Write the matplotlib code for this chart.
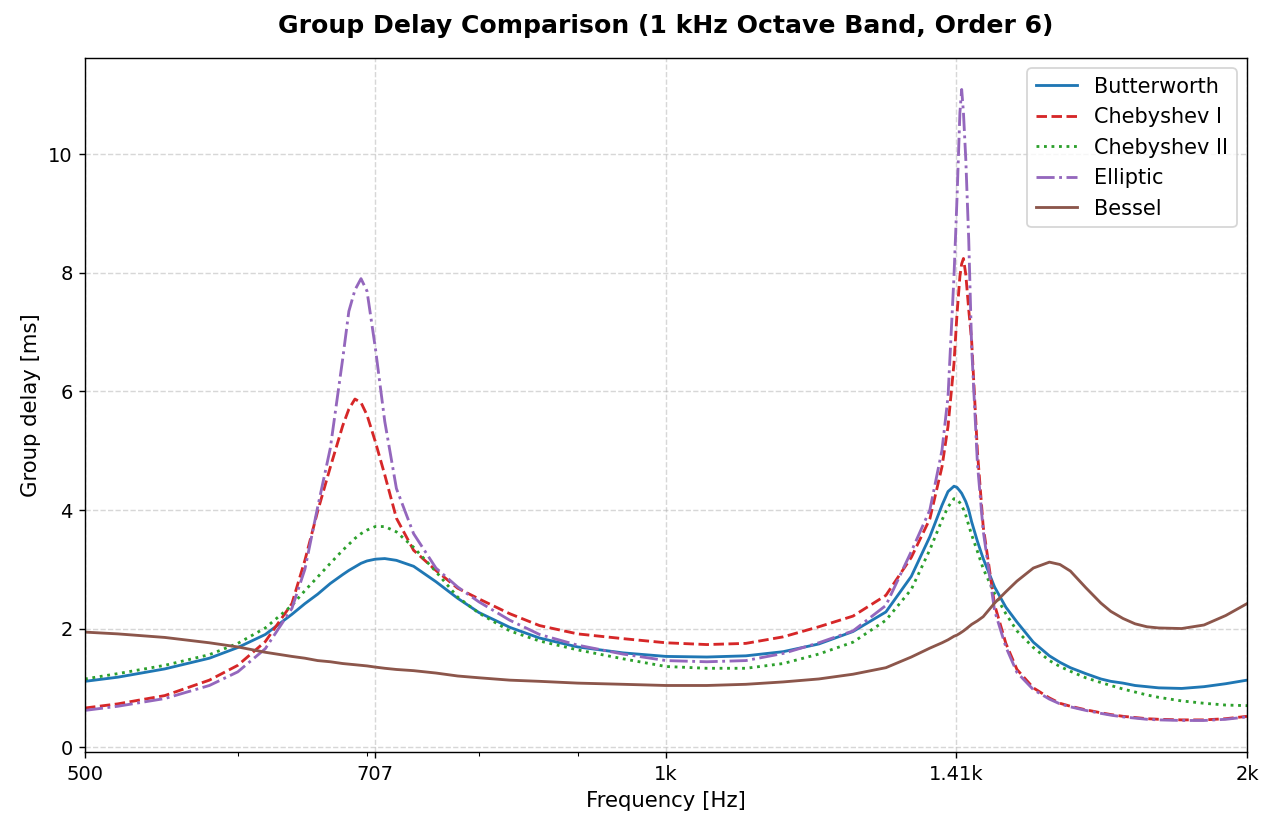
import numpy as np
import matplotlib.pyplot as plt
from matplotlib.ticker import NullFormatter

# frequency grid [Hz] (denser around the two band edges)
freq = [500, 520, 550, 580, 600, 620, 640, 650, 660, 670, 680, 685, 690, 695, 700,
        707, 715, 725, 740, 760, 780, 800, 830, 860, 900, 950, 1000, 1050, 1100,
        1150, 1200, 1250, 1300, 1340, 1370, 1390, 1400, 1410, 1415, 1420, 1423,
        1426, 1430, 1435, 1440, 1450, 1460, 1480, 1500, 1520, 1550, 1580, 1600, 1620,
        1650, 1680, 1700, 1725, 1750, 1775, 1800, 1850, 1900, 1950, 2000]

# group delay [ms]
butterworth = [1.11, 1.18, 1.32, 1.50, 1.68, 1.90, 2.24, 2.42, 2.58, 2.76, 2.91, 2.98, 3.04, 3.10, 3.14,
               3.17, 3.18, 3.15, 3.05, 2.79, 2.51, 2.27, 2.02, 1.84, 1.69, 1.59, 1.53, 1.52, 1.54,
               1.61, 1.74, 1.95, 2.28, 2.88, 3.55, 4.08, 4.31, 4.40, 4.38, 4.32, 4.28,
               4.22, 4.14, 4.00, 3.80, 3.47, 3.18, 2.70, 2.36, 2.11, 1.77, 1.54, 1.43, 1.34,
               1.24, 1.15, 1.11, 1.08, 1.04, 1.02, 1.00, 0.99, 1.02, 1.07, 1.13]
cheby1 = [0.66, 0.73, 0.87, 1.13, 1.38, 1.78, 2.42, 3.15, 3.98, 4.72, 5.42, 5.70, 5.87, 5.81, 5.60,
          5.15, 4.59, 3.86, 3.32, 2.98, 2.68, 2.50, 2.25, 2.05, 1.91, 1.83, 1.76, 1.73, 1.75,
          1.86, 2.03, 2.21, 2.56, 3.20, 3.85, 4.73, 5.41, 6.47, 7.29, 7.94, 8.15,
          8.24, 7.97, 7.38, 6.85, 4.98, 3.72, 2.40, 1.75, 1.31, 1.00, 0.83, 0.74, 0.69,
          0.63, 0.58, 0.55, 0.52, 0.50, 0.48, 0.47, 0.46, 0.46, 0.48, 0.52]
cheby2 = [1.15, 1.24, 1.38, 1.56, 1.75, 2.01, 2.39, 2.64, 2.87, 3.10, 3.32, 3.42, 3.52, 3.60, 3.66,
          3.72, 3.72, 3.63, 3.37, 2.96, 2.53, 2.26, 1.96, 1.79, 1.64, 1.49, 1.36, 1.33, 1.33,
          1.41, 1.57, 1.77, 2.14, 2.66, 3.33, 3.83, 4.05, 4.19, 4.18, 4.12, 4.07,
          4.01, 3.91, 3.74, 3.58, 3.30, 3.01, 2.59, 2.25, 1.96, 1.68, 1.46, 1.36, 1.28,
          1.17, 1.09, 1.04, 0.98, 0.93, 0.88, 0.84, 0.78, 0.74, 0.71, 0.70]
elliptic = [0.62, 0.69, 0.82, 1.04, 1.27, 1.66, 2.34, 3.00, 4.05, 5.04, 6.55, 7.35, 7.71, 7.90, 7.69,
            6.73, 5.49, 4.36, 3.60, 3.02, 2.70, 2.45, 2.14, 1.90, 1.72, 1.57, 1.46, 1.44, 1.46,
            1.58, 1.76, 1.96, 2.39, 3.30, 4.00, 5.01, 5.91, 7.94, 9.23, 10.70, 11.09,
            10.70, 9.91, 8.56, 6.75, 4.78, 3.65, 2.30, 1.69, 1.26, 0.97, 0.81, 0.73, 0.68,
            0.62, 0.57, 0.54, 0.51, 0.49, 0.47, 0.46, 0.45, 0.45, 0.47, 0.51]
bessel = [1.94, 1.91, 1.85, 1.76, 1.69, 1.60, 1.53, 1.50, 1.46, 1.44, 1.41, 1.40, 1.39, 1.38, 1.37,
          1.35, 1.33, 1.31, 1.29, 1.25, 1.20, 1.17, 1.13, 1.11, 1.08, 1.06, 1.04, 1.04, 1.06,
          1.10, 1.15, 1.23, 1.34, 1.52, 1.67, 1.76, 1.81, 1.87, 1.89, 1.92, 1.94,
          1.96, 1.99, 2.03, 2.07, 2.13, 2.20, 2.43, 2.62, 2.80, 3.02, 3.12, 3.08, 2.97,
          2.69, 2.43, 2.29, 2.17, 2.08, 2.03, 2.01, 2.00, 2.06, 2.22, 2.42]

tick_freqs = [500, 707, 1000, 1414, 2000]
tick_labels = ['500', '707', '1k', '1.41k', '2k']

fig, ax = plt.subplots(figsize=(10, 6.525), dpi=127.4)
fig.subplots_adjust(left=0.0667, right=0.9788, top=0.930, bottom=0.095)

ax.plot(freq, butterworth, color='tab:blue', ls='-', lw=1.6, label='Butterworth')
ax.plot(freq, cheby1, color='tab:red', ls='--', lw=1.6, label='Chebyshev I')
ax.plot(freq, cheby2, color='tab:green', ls=':', lw=1.6, label='Chebyshev II')
ax.plot(freq, elliptic, color='tab:purple', ls='-.', lw=1.6, label='Elliptic')
ax.plot(freq, bessel, color='tab:brown', ls='-', lw=1.6, label='Bessel')

ax.set_xscale('log')
ax.set_xlim(500, 2000)
ax.set_xticks(tick_freqs)
ax.set_xticklabels(tick_labels)
ax.xaxis.set_minor_formatter(NullFormatter())
ax.tick_params(labelsize=11)

ax.grid(True, which='major', ls='--', alpha=0.5)
ax.set_title('Group Delay Comparison (1 kHz Octave Band, Order 6)',
             fontsize=14.2, fontweight='bold', pad=14)
ax.set_xlabel('Frequency [Hz]', fontsize=12)
ax.set_ylabel('Group delay [ms]', fontsize=12)
ax.legend(loc='upper right', fontsize=11.8)

fig.savefig('out.png', dpi=127.4)
